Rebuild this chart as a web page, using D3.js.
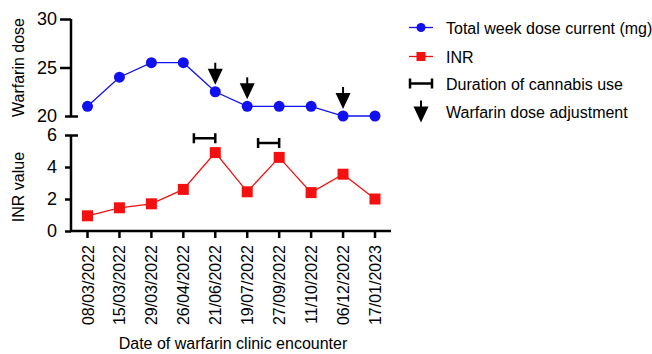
<!DOCTYPE html>
<html>
<head>
<meta charset="utf-8">
<script src="https://cdn.jsdelivr.net/npm/d3@7"></script>
<style>
  body { margin: 0; background: #fff; }
  text { font-family: "Liberation Sans", Arial, sans-serif; fill: #000; }
</style>
</head>
<body>
<div id="chart"></div>
<script>
// Chart data
const dates = ["08/03/2022", "15/03/2022", "29/03/2022", "26/04/2022", "21/06/2022",
               "19/07/2022", "27/09/2022", "11/10/2022", "06/12/2022", "17/01/2023"];
const doseValues = [21, 24, 25.5, 25.5, 22.5, 21, 21, 21, 20, 20];
const inrValues = [0.95, 1.45, 1.7, 2.6, 4.9, 2.45, 4.6, 2.4, 3.55, 2.0];
const doseTicks = [20, 25, 30];
const inrTicks = [0, 2, 4, 6];
// dose adjustments (date index)
const adjustments = [4, 5, 8];
// cannabis use: start/end as positions on the date axis, height in INR units
const cannabis = [
    { start: 3.33, end: 4, level: 5.8 },
    { start: 5.34, end: 6, level: 5.5 }
];

const width = 652, height = 354;
const svg = d3.select("#chart").append("svg")
    .attr("width", width)
    .attr("height", height);

const fs = 16;

// x positions: index based
const x = d3.scaleLinear().domain([0, dates.length - 1]).range([87.5, 375]);
const yDose = d3.scaleLinear().domain([20, 30]).range([116, 19]);
const yInr = d3.scaleLinear().domain([0, 6]).range([231, 135]);

const axisX0 = 71, axisX1 = 391;

// --- top panel axis
const gDose = svg.append("g").attr("transform", `translate(${axisX0},0)`)
    .call(d3.axisLeft(yDose).tickValues(doseTicks).tickSize(11).tickPadding(3));
gDose.select(".domain").attr("d", `M0,${yDose(30)}V${yDose(20)}`);
gDose.selectAll(".tick").filter(d => d === 20).select("line").attr("x1", 7).attr("x2", -6);

// --- bottom panel axis
const gInr = svg.append("g").attr("transform", `translate(${axisX0},0)`)
    .call(d3.axisLeft(yInr).tickValues(inrTicks).tickSize(6).tickPadding(8)
        .tickFormat(d3.format("d")));
gInr.select(".domain").attr("d", `M0,${yInr(6)}V${yInr(0)}`);
gInr.selectAll(".tick").filter(d => d === 6).select("line").attr("x1", 7).attr("x2", -6);

[gDose, gInr].forEach(g => {
    g.selectAll(".domain, .tick line").attr("stroke", "#000").attr("stroke-width", 2.5);
    g.selectAll(".tick text").attr("font-size", 18).attr("fill", "#000")
        .style("font-family", "'Liberation Sans', Arial, sans-serif");
});

// x axis
const gx = svg.append("g").attr("transform", `translate(0,${yInr(0)})`);
gx.append("line").attr("x1", axisX0 - 1).attr("x2", axisX1)
    .attr("stroke", "#000").attr("stroke-width", 2.5);
gx.selectAll(".xt").data(dates).join("g")
    .attr("class", "xt")
    .attr("transform", (d, i) => `translate(${x(i)},0)`)
    .each(function(d) {
        const g = d3.select(this);
        g.append("line").attr("y1", 0).attr("y2", 7).attr("stroke", "#000").attr("stroke-width", 2.5);
        g.append("text")
            .attr("transform", "translate(6,14) rotate(-90)")
            .attr("text-anchor", "end")
            .attr("font-size", fs)
            .text(d);
    });

// axis titles
svg.append("text")
    .attr("transform", `translate(24,${(yDose(20) + yDose(30)) / 2}) rotate(-90)`)
    .attr("text-anchor", "middle").attr("font-size", fs)
    .text("Warfarin dose");
svg.append("text")
    .attr("transform", `translate(24,${(yInr(0) + yInr(6)) / 2 + 4}) rotate(-90)`)
    .attr("text-anchor", "middle").attr("font-size", fs)
    .text("INR value");
svg.append("text")
    .attr("x", 233).attr("y", 349)
    .attr("text-anchor", "middle").attr("font-size", fs)
    .text("Date of warfarin clinic encounter");

// --- dose series
const blue = "#1010f0", red = "#f21010";
svg.append("path")
    .datum(doseValues)
    .attr("fill", "none").attr("stroke", blue).attr("stroke-width", 1.3)
    .attr("d", d3.line().x((d, i) => x(i)).y(d => yDose(d)));
svg.selectAll(".dose").data(doseValues).join("circle")
    .attr("class", "dose")
    .attr("cx", (d, i) => x(i)).attr("cy", d => yDose(d))
    .attr("r", 5.5).attr("fill", blue);

// --- INR series
svg.append("path")
    .datum(inrValues)
    .attr("fill", "none").attr("stroke", red).attr("stroke-width", 1.3)
    .attr("d", d3.line().x((d, i) => x(i)).y(d => yInr(d)));
svg.selectAll(".inr").data(inrValues).join("rect")
    .attr("class", "inr")
    .attr("x", (d, i) => x(i) - 5.5).attr("y", d => yInr(d) - 5.5)
    .attr("width", 11).attr("height", 11).attr("fill", red);

// --- dose adjustment arrows
const arrow = (g, tipX, tipY) => {
    g.append("line").attr("x1", tipX).attr("x2", tipX)
        .attr("y1", tipY - 22).attr("y2", tipY - 10)
        .attr("stroke", "#000").attr("stroke-width", 2);
    g.append("path")
        .attr("d", `M${tipX - 7.5},${tipY - 16}L${tipX + 7.5},${tipY - 16}L${tipX},${tipY}Z`)
        .attr("fill", "#000");
};
adjustments.forEach(i => arrow(svg, x(i), yDose(doseValues[i]) - 7));

// --- cannabis bars
const bar = (g, x1, x2, y) => {
    g.append("path")
        .attr("d", `M${x1},${y - 5}V${y + 5}M${x1},${y}H${x2}M${x2},${y - 5}V${y + 5}`)
        .attr("fill", "none").attr("stroke", "#000").attr("stroke-width", 2.5);
};
cannabis.forEach(c => bar(svg, x(c.start), x(c.end), yInr(c.level)));

// --- legend
const legendLabels = ["Total week dose current (mg)", "INR", "Duration of cannabis use", "Warfarin dose adjustment"];
const lx = 421, ly = [27.5, 56.5, 83.5, 111.5];
const legend = svg.append("g");
legendLabels.forEach((label, k) => {
    legend.append("text").attr("x", 446).attr("y", ly[k] + 6)
        .attr("font-size", fs).text(label);
});
legend.append("line").attr("x1", lx - 12).attr("x2", lx + 12).attr("y1", ly[0]).attr("y2", ly[0])
    .attr("stroke", blue).attr("stroke-width", 1.3);
legend.append("circle").attr("cx", lx).attr("cy", ly[0]).attr("r", 4.5).attr("fill", blue);
legend.append("line").attr("x1", lx - 12).attr("x2", lx + 12).attr("y1", ly[1]).attr("y2", ly[1])
    .attr("stroke", red).attr("stroke-width", 1.3);
legend.append("rect").attr("x", lx - 4.5).attr("y", ly[1] - 4.5).attr("width", 9).attr("height", 9).attr("fill", red);
bar(legend, lx - 11, lx + 11, ly[2]);
arrow(legend, lx, ly[3] + 11);
</script>
</body>
</html>
